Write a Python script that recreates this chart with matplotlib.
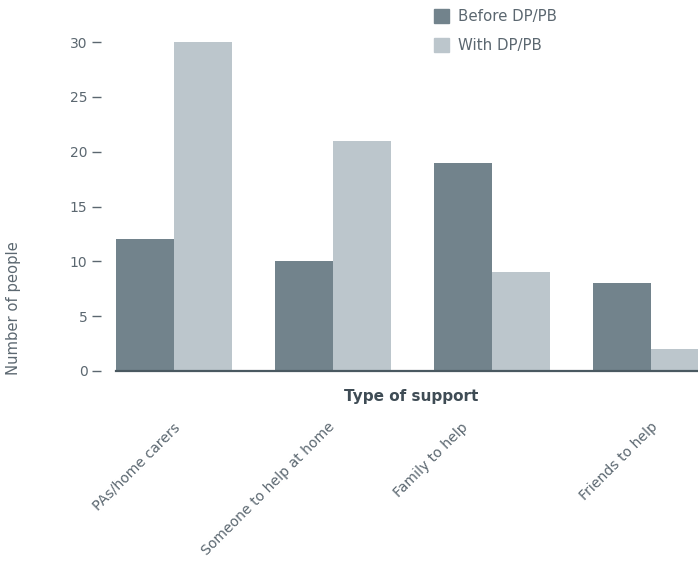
import matplotlib
matplotlib.use("Agg")
import matplotlib.pyplot as plt
from matplotlib.patches import Patch
import matplotlib.transforms as mtransforms
import numpy as np

# Data
categories = ["PAs/home carers", "Someone to help at home", "Family to help", "Friends to help"]
before_dppb = [12, 10, 19, 8]
with_dppb = [30, 21, 9, 2]
series_names = ["Before DP/PB", "With DP/PB"]
y_ticks = [0, 5, 10, 15, 20, 25, 30]

# Style
c_before = "#72838c"
c_with = "#bcc6cc"
c_text = "#5b6770"
c_dark = "#3f4c55"
plt.rcParams["font.family"] = ["DejaVu Sans"]

W, H = 698, 561
fig = plt.figure(figsize=(W / 100, H / 100), dpi=100)

left_px, right_px, top_px, base_px = 116, 698, 42, 371
ax = fig.add_axes([left_px / W, 1 - base_px / H, (right_px - left_px) / W, (base_px - top_px) / H])

x = np.arange(len(categories))
w = 0.365
ax.bar(x - w / 2, before_dppb, width=w, color=c_before, zorder=2)
ax.bar(x + w / 2, with_dppb, width=w, color=c_with, zorder=2)

ax.set_xlim(-w, 3.296)
ax.set_ylim(0, 30)

for s in ["top", "right"]:
    ax.spines[s].set_visible(False)
ax.spines["left"].set_color("none")
ax.spines["left"].set_position(("outward", 11))
ax.spines["bottom"].set_color("#4a5961")
ax.spines["bottom"].set_linewidth(1.6)
ax.spines["bottom"].set_zorder(3)

ax.set_yticks(y_ticks)
ax.set_yticklabels([str(t) for t in y_ticks])
ax.tick_params(axis="y", direction="out", length=6.5, width=1, color=c_text,
               pad=3, labelsize=10, labelcolor=c_text)
ax.set_xticks([])

# Rotated category labels under each group (horizontal nudge in pixels)
label_nudge_px = [-1, -5, -31, 0]
for xi, label, dx in zip(x, categories, label_nudge_px):
    trans = ax.transData + mtransforms.ScaledTranslation(dx / 100, 0, fig.dpi_scale_trans)
    trans = mtransforms.blended_transform_factory(trans, fig.transFigure)
    ax.text(xi, 1 - 420 / H, label, transform=trans, rotation=45, rotation_mode="anchor",
            ha="right", va="top", fontsize=10.1, color=c_text)

fig.text(411 / W, 1 - 396 / H, "Type of support", ha="center", va="center",
         fontsize=11, fontweight="bold", color=c_dark)
fig.text(14 / W, 1 - 308 / H, "Number of people", rotation=90, ha="center", va="center",
         fontsize=10.6, color=c_text)

handles = [Patch(color=c_before, label=series_names[0]), Patch(color=c_with, label=series_names[1])]
fig.legend(handles=handles, loc="upper left", bbox_to_anchor=(428 / W, 1 - 3 / H),
           frameon=False, fontsize=10.8, handlelength=1.0, handleheight=1.05,
           handletextpad=0.6, labelspacing=0.95, labelcolor=c_text, borderaxespad=0)

fig.savefig("out.png", dpi=100)
